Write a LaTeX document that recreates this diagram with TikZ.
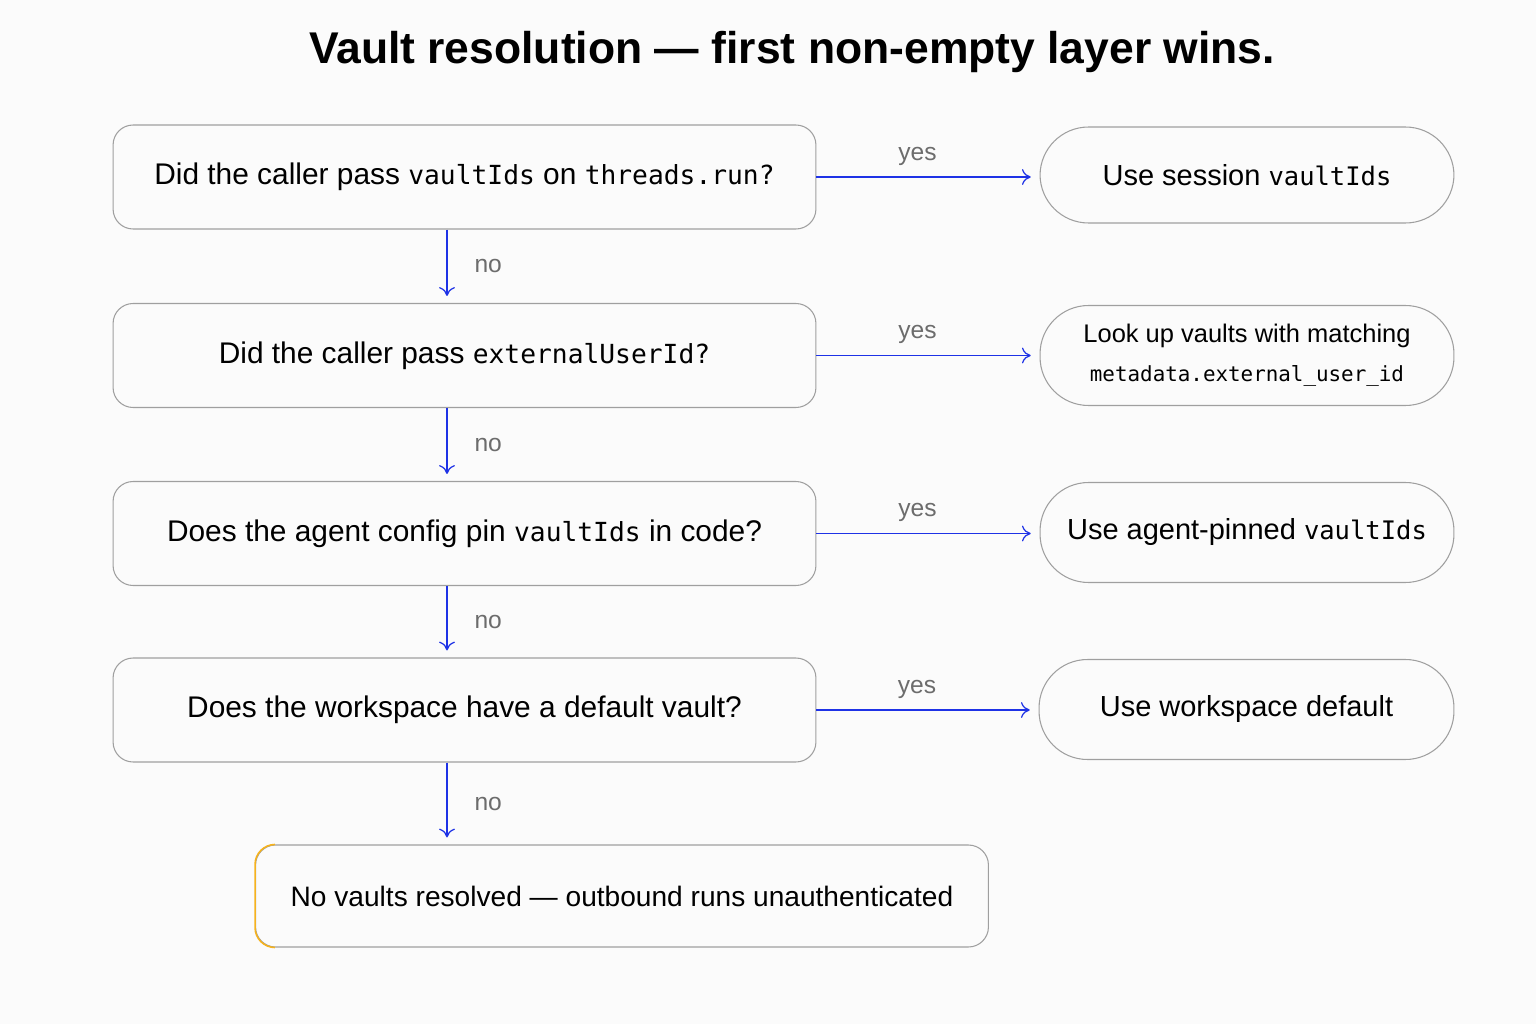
\documentclass[tikz,border=0pt]{standalone}
\usepackage{fontspec}
\setmainfont{Liberation Sans}
\setmonofont[Scale=0.88]{DejaVu Sans Mono}
\usetikzlibrary{arrows.meta}
\begin{document}
\begin{tikzpicture}[x=0.02cm,y=-0.02cm,
    question/.style={draw=gray!75, line width=0.6pt, rounded corners=0.4cm, minimum width=14.06cm, minimum height=2.08cm, inner sep=0pt, font=\fontsize{17}{21}\selectfont},
    answer/.style={draw=gray!75, line width=0.6pt, rounded corners=0.97cm, minimum width=8.28cm, minimum height=2.0cm, inner sep=0pt, font=\fontsize{16.5}{21}\selectfont, align=center},
    flow/.style={draw=flowblue, line width=0.7pt, -{To[length=5pt,width=9pt]}, shorten >=4pt},
    lbl/.style={text=gray!85!black, font=\fontsize{14}{16}\selectfont}]
  \definecolor{bgcolor}{RGB}{251, 251, 251}
  \definecolor{edgeorange}{RGB}{245, 178, 30}
  \definecolor{flowblue}{RGB}{30, 50, 230}
  \fill[bgcolor] (0,0) rectangle (1536,1024);
  \node[font=\bfseries\fontsize{25.3}{30}\selectfont] (title) at (792,52) {Vault resolution — first non-empty layer wins.};
  % question column
  \node[question] (q1) at (464.5,177) {Did the caller pass \texttt{vaultIds} on \texttt{threads.run?}};
  \node[question] (q2) at (464.5,355.5) {Did the caller pass \texttt{externalUserId?}};
  \node[question] (q3) at (464.5,533.5) {Does the agent config pin \texttt{vaultIds} in code?};
  \node[question] (q4) at (464.5,710) {Does the workspace have a default vault?};
  \node[question, minimum width=14.66cm, minimum height=2.04cm, font=\fontsize{16}{20}\selectfont] (none) at (622,896) {No vaults resolved — outbound runs unauthenticated};
  \draw[edgeorange, line width=0.9pt] ([xshift=0.4cm]none.north west) arc[start angle=90, end angle=180, radius=0.4cm]
    -- ([yshift=0.4cm]none.south west) arc[start angle=180, end angle=270, radius=0.4cm];
  % answer column
  \node[answer, minimum height=1.92cm] (a1) at (1247,175) {Use session \texttt{vaultIds}};
  \node[answer, font=\fontsize{14.5}{22}\selectfont] (a2) at (1247,355.5) {Look up vaults with matching\\{\fontsize{13.5}{22}\selectfont\texttt{metadata.external\_user\_id}}};
  \node[answer] (a3) at (1247,532.5) {Use agent-pinned \texttt{vaultIds}};
  \node[answer, minimum width=8.3cm] (a4) at (1246.5,709.5) {Use workspace default};
  % no arrows
  \foreach \from/\to in {q1/q2, q2/q3, q3/q4, q4/none} {
    \draw[flow] (\from.south -| 447,0) -- (\to.north -| 447,0) node[lbl, midway, right=12pt] {no};
  }
  % yes arrows
  \foreach \i in {1,...,4} {
    \draw[flow, shorten >=5pt] (q\i.east) -- (a\i.west |- q\i.east) node[lbl, midway, above=3pt, xshift=-6pt] {yes};
  }
\end{tikzpicture}
\end{document}
